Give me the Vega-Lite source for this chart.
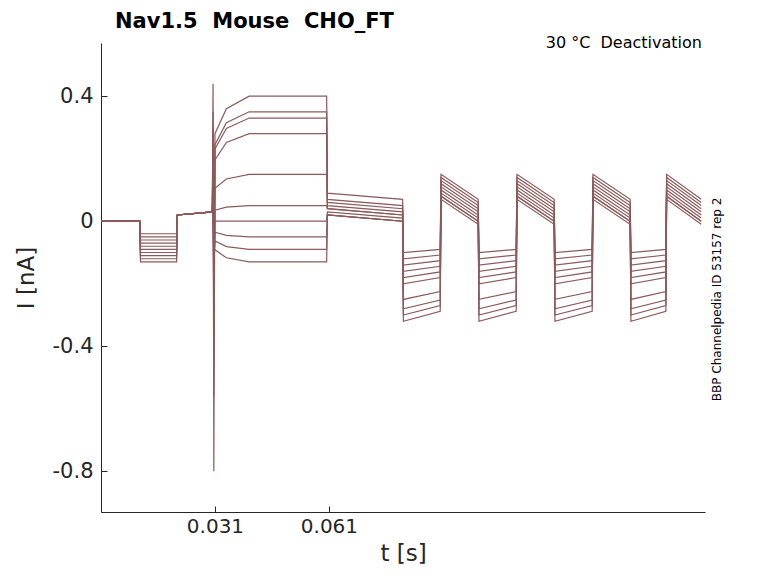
{
  "$schema": "https://vega.github.io/schema/vega-lite/v6.json",
  "width": 604,
  "height": 469,
  "autosize": "none",
  "padding": {"left": 101, "top": 43, "right": 73, "bottom": 71},
  "background": "white",
  "title": {"text": "Nav1.5\u00a0\u00a0Mouse\u00a0\u00a0CHO_FT", "anchor": "start", "frame": "group", "offset": 3, "dx": 14, "fontSize": 21, "font": "DejaVu Sans", "fontWeight": "bold", "color": "black"},
  "config": {"view": {"stroke": null}, "font": "DejaVu Sans"},
  "datasets": {
    "traces": [
{"k":0,"t":0.001,"i":0},{"k":0,"t":0.0112,"i":0},{"k":0,"t":0.0114,"i":-0.04},{"k":0,"t":0.0209,"i":-0.04},{"k":0,"t":0.0211,"i":0.02},{"k":0,"t":0.0303,"i":0.03},{"k":0,"t":0.0305,"i":0.44},{"k":0,"t":0.0307,"i":-0.8},{"k":0,"t":0.031,"i":0.28},{"k":0,"t":0.034,"i":0.36},{"k":0,"t":0.04,"i":0.4},{"k":0,"t":0.0604,"i":0.4},{"k":0,"t":0.0606,"i":0.09},{"k":0,"t":0.0804,"i":0.07},{"k":0,"t":0.0806,"i":-0.1},{"k":0,"t":0.0903,"i":-0.09},{"k":0,"t":0.0905,"i":0.15},{"k":0,"t":0.1003,"i":0.07},{"k":0,"t":0.1005,"i":-0.1},{"k":0,"t":0.1103,"i":-0.09},{"k":0,"t":0.1105,"i":0.15},{"k":0,"t":0.1203,"i":0.07},{"k":0,"t":0.1205,"i":-0.1},{"k":0,"t":0.1303,"i":-0.09},{"k":0,"t":0.1305,"i":0.15},{"k":0,"t":0.1403,"i":0.07},{"k":0,"t":0.1405,"i":-0.1},{"k":0,"t":0.1497,"i":-0.09},{"k":0,"t":0.1499,"i":0.15},{"k":0,"t":0.159,"i":0.07},
{"k":1,"t":0.001,"i":0},{"k":1,"t":0.0112,"i":0},{"k":1,"t":0.0114,"i":-0.05},{"k":1,"t":0.0209,"i":-0.05},{"k":1,"t":0.0211,"i":0.02},{"k":1,"t":0.0303,"i":0.03},{"k":1,"t":0.0305,"i":0.35},{"k":1,"t":0.0307,"i":-0.56},{"k":1,"t":0.031,"i":0.245},{"k":1,"t":0.034,"i":0.315},{"k":1,"t":0.04,"i":0.35},{"k":1,"t":0.0604,"i":0.35},{"k":1,"t":0.0606,"i":0.07},{"k":1,"t":0.0804,"i":0.05},{"k":1,"t":0.0806,"i":-0.12},{"k":1,"t":0.0903,"i":-0.108},{"k":1,"t":0.0905,"i":0.14},{"k":1,"t":0.1003,"i":0.06},{"k":1,"t":0.1005,"i":-0.12},{"k":1,"t":0.1103,"i":-0.108},{"k":1,"t":0.1105,"i":0.14},{"k":1,"t":0.1203,"i":0.06},{"k":1,"t":0.1205,"i":-0.12},{"k":1,"t":0.1303,"i":-0.108},{"k":1,"t":0.1305,"i":0.14},{"k":1,"t":0.1403,"i":0.06},{"k":1,"t":0.1405,"i":-0.12},{"k":1,"t":0.1497,"i":-0.108},{"k":1,"t":0.1499,"i":0.14},{"k":1,"t":0.159,"i":0.06},
{"k":2,"t":0.001,"i":0},{"k":2,"t":0.0112,"i":0},{"k":2,"t":0.0114,"i":-0.06},{"k":2,"t":0.0209,"i":-0.06},{"k":2,"t":0.0211,"i":0.02},{"k":2,"t":0.0303,"i":0.03},{"k":2,"t":0.0305,"i":0.3},{"k":2,"t":0.0307,"i":-0.45},{"k":2,"t":0.031,"i":0.231},{"k":2,"t":0.034,"i":0.297},{"k":2,"t":0.04,"i":0.33},{"k":2,"t":0.0604,"i":0.33},{"k":2,"t":0.0606,"i":0.06},{"k":2,"t":0.0804,"i":0.04},{"k":2,"t":0.0806,"i":-0.14},{"k":2,"t":0.0903,"i":-0.126},{"k":2,"t":0.0905,"i":0.13},{"k":2,"t":0.1003,"i":0.05},{"k":2,"t":0.1005,"i":-0.14},{"k":2,"t":0.1103,"i":-0.126},{"k":2,"t":0.1105,"i":0.13},{"k":2,"t":0.1203,"i":0.05},{"k":2,"t":0.1205,"i":-0.14},{"k":2,"t":0.1303,"i":-0.126},{"k":2,"t":0.1305,"i":0.13},{"k":2,"t":0.1403,"i":0.05},{"k":2,"t":0.1405,"i":-0.14},{"k":2,"t":0.1497,"i":-0.126},{"k":2,"t":0.1499,"i":0.13},{"k":2,"t":0.159,"i":0.05},
{"k":3,"t":0.001,"i":0},{"k":3,"t":0.0112,"i":0},{"k":3,"t":0.0114,"i":-0.07},{"k":3,"t":0.0209,"i":-0.07},{"k":3,"t":0.0211,"i":0.02},{"k":3,"t":0.0303,"i":0.03},{"k":3,"t":0.0305,"i":0.25},{"k":3,"t":0.0307,"i":-0.35},{"k":3,"t":0.031,"i":0.196},{"k":3,"t":0.034,"i":0.252},{"k":3,"t":0.04,"i":0.28},{"k":3,"t":0.0604,"i":0.28},{"k":3,"t":0.0606,"i":0.05},{"k":3,"t":0.0804,"i":0.03},{"k":3,"t":0.0806,"i":-0.16},{"k":3,"t":0.0903,"i":-0.144},{"k":3,"t":0.0905,"i":0.12},{"k":3,"t":0.1003,"i":0.04},{"k":3,"t":0.1005,"i":-0.16},{"k":3,"t":0.1103,"i":-0.144},{"k":3,"t":0.1105,"i":0.12},{"k":3,"t":0.1203,"i":0.04},{"k":3,"t":0.1205,"i":-0.16},{"k":3,"t":0.1303,"i":-0.144},{"k":3,"t":0.1305,"i":0.12},{"k":3,"t":0.1403,"i":0.04},{"k":3,"t":0.1405,"i":-0.16},{"k":3,"t":0.1497,"i":-0.144},{"k":3,"t":0.1499,"i":0.12},{"k":3,"t":0.159,"i":0.04},
{"k":4,"t":0.001,"i":0},{"k":4,"t":0.0112,"i":0},{"k":4,"t":0.0114,"i":-0.08},{"k":4,"t":0.0209,"i":-0.08},{"k":4,"t":0.0211,"i":0.02},{"k":4,"t":0.0303,"i":0.03},{"k":4,"t":0.0305,"i":0.2},{"k":4,"t":0.0307,"i":-0.3},{"k":4,"t":0.031,"i":0.105},{"k":4,"t":0.034,"i":0.135},{"k":4,"t":0.04,"i":0.15},{"k":4,"t":0.0604,"i":0.15},{"k":4,"t":0.0606,"i":0.04},{"k":4,"t":0.0804,"i":0.02},{"k":4,"t":0.0806,"i":-0.18},{"k":4,"t":0.0903,"i":-0.162},{"k":4,"t":0.0905,"i":0.11},{"k":4,"t":0.1003,"i":0.03},{"k":4,"t":0.1005,"i":-0.18},{"k":4,"t":0.1103,"i":-0.162},{"k":4,"t":0.1105,"i":0.11},{"k":4,"t":0.1203,"i":0.03},{"k":4,"t":0.1205,"i":-0.18},{"k":4,"t":0.1303,"i":-0.162},{"k":4,"t":0.1305,"i":0.11},{"k":4,"t":0.1403,"i":0.03},{"k":4,"t":0.1405,"i":-0.18},{"k":4,"t":0.1497,"i":-0.162},{"k":4,"t":0.1499,"i":0.11},{"k":4,"t":0.159,"i":0.03},
{"k":5,"t":0.001,"i":0},{"k":5,"t":0.0112,"i":0},{"k":5,"t":0.0114,"i":-0.09},{"k":5,"t":0.0209,"i":-0.09},{"k":5,"t":0.0211,"i":0.02},{"k":5,"t":0.0303,"i":0.03},{"k":5,"t":0.0305,"i":0.15},{"k":5,"t":0.0307,"i":-0.25},{"k":5,"t":0.031,"i":0.035},{"k":5,"t":0.034,"i":0.045},{"k":5,"t":0.04,"i":0.05},{"k":5,"t":0.0604,"i":0.05},{"k":5,"t":0.0606,"i":0.04},{"k":5,"t":0.0804,"i":0.02},{"k":5,"t":0.0806,"i":-0.2},{"k":5,"t":0.0903,"i":-0.18},{"k":5,"t":0.0905,"i":0.1},{"k":5,"t":0.1003,"i":0.02},{"k":5,"t":0.1005,"i":-0.2},{"k":5,"t":0.1103,"i":-0.18},{"k":5,"t":0.1105,"i":0.1},{"k":5,"t":0.1203,"i":0.02},{"k":5,"t":0.1205,"i":-0.2},{"k":5,"t":0.1303,"i":-0.18},{"k":5,"t":0.1305,"i":0.1},{"k":5,"t":0.1403,"i":0.02},{"k":5,"t":0.1405,"i":-0.2},{"k":5,"t":0.1497,"i":-0.18},{"k":5,"t":0.1499,"i":0.1},{"k":5,"t":0.159,"i":0.02},
{"k":6,"t":0.001,"i":0},{"k":6,"t":0.0112,"i":0},{"k":6,"t":0.0114,"i":-0.1},{"k":6,"t":0.0209,"i":-0.1},{"k":6,"t":0.0211,"i":0.02},{"k":6,"t":0.0303,"i":0.03},{"k":6,"t":0.0305,"i":0.12},{"k":6,"t":0.0307,"i":-0.2},{"k":6,"t":0.031,"i":0},{"k":6,"t":0.034,"i":0},{"k":6,"t":0.04,"i":0},{"k":6,"t":0.0604,"i":0},{"k":6,"t":0.0606,"i":0.03},{"k":6,"t":0.0804,"i":0.01},{"k":6,"t":0.0806,"i":-0.25},{"k":6,"t":0.0903,"i":-0.225},{"k":6,"t":0.0905,"i":0.09},{"k":6,"t":0.1003,"i":0.01},{"k":6,"t":0.1005,"i":-0.25},{"k":6,"t":0.1103,"i":-0.225},{"k":6,"t":0.1105,"i":0.09},{"k":6,"t":0.1203,"i":0.01},{"k":6,"t":0.1205,"i":-0.25},{"k":6,"t":0.1303,"i":-0.225},{"k":6,"t":0.1305,"i":0.09},{"k":6,"t":0.1403,"i":0.01},{"k":6,"t":0.1405,"i":-0.25},{"k":6,"t":0.1497,"i":-0.225},{"k":6,"t":0.1499,"i":0.09},{"k":6,"t":0.159,"i":0.01},
{"k":7,"t":0.001,"i":0},{"k":7,"t":0.0112,"i":0},{"k":7,"t":0.0114,"i":-0.11},{"k":7,"t":0.0209,"i":-0.11},{"k":7,"t":0.0211,"i":0.02},{"k":7,"t":0.0303,"i":0.03},{"k":7,"t":0.0305,"i":0.1},{"k":7,"t":0.0307,"i":-0.15},{"k":7,"t":0.031,"i":-0.035},{"k":7,"t":0.034,"i":-0.045},{"k":7,"t":0.04,"i":-0.05},{"k":7,"t":0.0604,"i":-0.05},{"k":7,"t":0.0606,"i":0.02},{"k":7,"t":0.0804,"i":0},{"k":7,"t":0.0806,"i":-0.28},{"k":7,"t":0.0903,"i":-0.252},{"k":7,"t":0.0905,"i":0.08},{"k":7,"t":0.1003,"i":0},{"k":7,"t":0.1005,"i":-0.28},{"k":7,"t":0.1103,"i":-0.252},{"k":7,"t":0.1105,"i":0.08},{"k":7,"t":0.1203,"i":0},{"k":7,"t":0.1205,"i":-0.28},{"k":7,"t":0.1303,"i":-0.252},{"k":7,"t":0.1305,"i":0.08},{"k":7,"t":0.1403,"i":0},{"k":7,"t":0.1405,"i":-0.28},{"k":7,"t":0.1497,"i":-0.252},{"k":7,"t":0.1499,"i":0.08},{"k":7,"t":0.159,"i":0},
{"k":8,"t":0.001,"i":0},{"k":8,"t":0.0112,"i":0},{"k":8,"t":0.0114,"i":-0.12},{"k":8,"t":0.0209,"i":-0.12},{"k":8,"t":0.0211,"i":0.02},{"k":8,"t":0.0303,"i":0.03},{"k":8,"t":0.0305,"i":0.08},{"k":8,"t":0.0307,"i":-0.12},{"k":8,"t":0.031,"i":-0.063},{"k":8,"t":0.034,"i":-0.081},{"k":8,"t":0.04,"i":-0.09},{"k":8,"t":0.0604,"i":-0.09},{"k":8,"t":0.0606,"i":0.02},{"k":8,"t":0.0804,"i":0},{"k":8,"t":0.0806,"i":-0.3},{"k":8,"t":0.0903,"i":-0.27},{"k":8,"t":0.0905,"i":0.08},{"k":8,"t":0.1003,"i":0},{"k":8,"t":0.1005,"i":-0.3},{"k":8,"t":0.1103,"i":-0.27},{"k":8,"t":0.1105,"i":0.08},{"k":8,"t":0.1203,"i":0},{"k":8,"t":0.1205,"i":-0.3},{"k":8,"t":0.1303,"i":-0.27},{"k":8,"t":0.1305,"i":0.08},{"k":8,"t":0.1403,"i":0},{"k":8,"t":0.1405,"i":-0.3},{"k":8,"t":0.1497,"i":-0.27},{"k":8,"t":0.1499,"i":0.08},{"k":8,"t":0.159,"i":0},
{"k":9,"t":0.001,"i":0},{"k":9,"t":0.0112,"i":0},{"k":9,"t":0.0114,"i":-0.13},{"k":9,"t":0.0209,"i":-0.13},{"k":9,"t":0.0211,"i":0.02},{"k":9,"t":0.0303,"i":0.03},{"k":9,"t":0.0305,"i":0.06},{"k":9,"t":0.0307,"i":-0.1},{"k":9,"t":0.031,"i":-0.091},{"k":9,"t":0.034,"i":-0.117},{"k":9,"t":0.04,"i":-0.13},{"k":9,"t":0.0604,"i":-0.13},{"k":9,"t":0.0606,"i":0.02},{"k":9,"t":0.0804,"i":0},{"k":9,"t":0.0806,"i":-0.32},{"k":9,"t":0.0903,"i":-0.288},{"k":9,"t":0.0905,"i":0.07},{"k":9,"t":0.1003,"i":-0.01},{"k":9,"t":0.1005,"i":-0.32},{"k":9,"t":0.1103,"i":-0.288},{"k":9,"t":0.1105,"i":0.07},{"k":9,"t":0.1203,"i":-0.01},{"k":9,"t":0.1205,"i":-0.32},{"k":9,"t":0.1303,"i":-0.288},{"k":9,"t":0.1305,"i":0.07},{"k":9,"t":0.1403,"i":-0.01},{"k":9,"t":0.1405,"i":-0.32},{"k":9,"t":0.1497,"i":-0.288},{"k":9,"t":0.1499,"i":0.07},{"k":9,"t":0.159,"i":-0.01}
    ]
  },
  "layer": [
    {
      "data": {"name": "traces"},
      "mark": {"type": "line", "color": "#8c5a5a", "strokeWidth": 1.2, "interpolate": "linear"},
      "encoding": {
        "x": {"field": "t", "type": "quantitative", "scale": {"domain": [0.001, 0.16], "nice": false, "zero": false},
          "axis": {"title": "t [s]", "values": [0.031, 0.061], "format": ".3f", "grid": false, "labelFontSize": 20, "titleFontSize": 23, "titleFontWeight": "normal", "labelColor": "#262626", "titleColor": "#262626", "domainColor": "#262626", "tickColor": "#262626", "tickSize": -6, "labelPadding": 10, "titlePadding": 6}},
        "y": {"field": "i", "type": "quantitative", "scale": {"domain": [-0.93, 0.57], "nice": false, "zero": false},
          "axis": {"title": "I [nA]", "values": [-0.8, -0.4, 0, 0.4], "labelExpr": "datum.value == 0 ? '0' : replace(format(datum.value, '.1f'), '\u2212', '-')", "grid": false, "labelFontSize": 21, "titleFontSize": 23, "titleFontWeight": "normal", "labelColor": "#262626", "titleColor": "#262626", "domainColor": "#262626", "tickColor": "#262626", "tickSize": -6, "labelPadding": 14, "titlePadding": 14}},
        "detail": {"field": "k", "type": "nominal"}
      }
    },
    {
      "data": {"values": [{"label": "30 °C\u00a0\u00a0Deactivation"}]},
      "mark": {"type": "text", "align": "right", "baseline": "middle", "fontSize": 16, "color": "black"},
      "encoding": {"x": {"datum": 0.1592}, "y": {"datum": 0.57}, "text": {"field": "label"}}
    },
    {
      "data": {"values": [{"label": "BBP Channelpedia ID 53157 rep 2"}]},
      "mark": {"type": "text", "angle": 270, "align": "center", "baseline": "middle", "fontSize": 12, "color": "black", "clip": false},
      "encoding": {"x": {"datum": 0.1632}, "y": {"datum": -0.25}, "text": {"field": "label"}}
    }
  ]
}
